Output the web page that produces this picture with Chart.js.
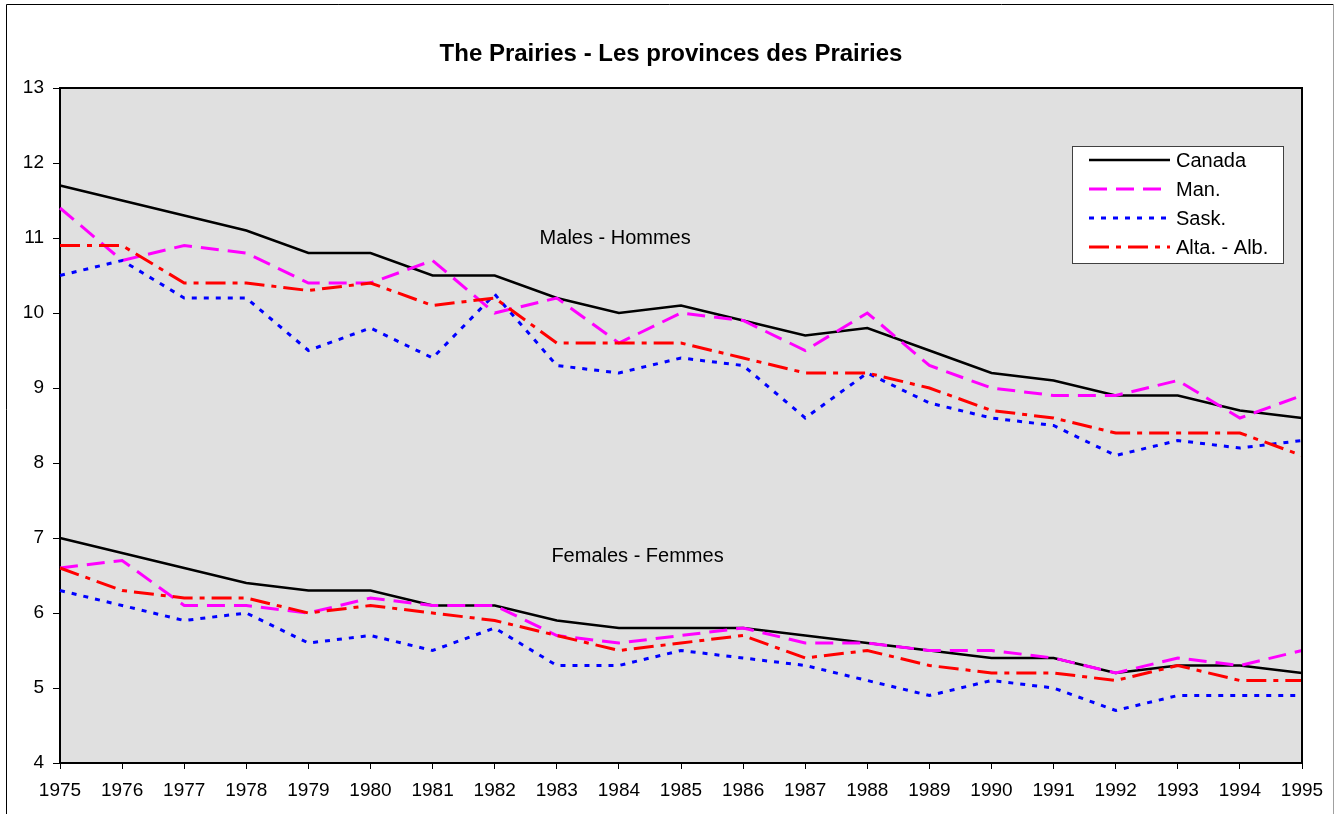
<!DOCTYPE html>
<html>
<head>
<meta charset="utf-8">
<title>The Prairies - Les provinces des Prairies</title>
<script src="https://cdn.jsdelivr.net/npm/chart.js@4.4.1/dist/chart.umd.min.js"></script>
<style>
  html, body { margin: 0; padding: 0; background: #ffffff; }
  canvas { display: block; }
</style>
</head>
<body>
<canvas id="myChart" width="1335" height="814"></canvas>
<script>
// Data
const years = ['1975', '1976', '1977', '1978', '1979', '1980', '1981', '1982', '1983', '1984', '1985',
  '1986', '1987', '1988', '1989', '1990', '1991', '1992', '1993', '1994', '1995'];

// Males - Hommes
const canadaMales = [11.7, 11.5, 11.3, 11.1, 10.8, 10.8, 10.5, 10.5, 10.2, 10.0, 10.1, 9.9, 9.7, 9.8, 9.5, 9.2, 9.1, 8.9, 8.9, 8.7, 8.6];
const manMales    = [11.4, 10.7, 10.9, 10.8, 10.4, 10.4, 10.7, 10.0, 10.2, 9.6, 10.0, 9.9, 9.5, 10.0, 9.3, 9.0, 8.9, 8.9, 9.1, 8.6, 8.9];
const saskMales   = [10.5, 10.7, 10.2, 10.2, 9.5, 9.8, 9.4, 10.25, 9.3, 9.2, 9.4, 9.3, 8.6, 9.2, 8.8, 8.6, 8.5, 8.1, 8.3, 8.2, 8.3];
const altaMales   = [10.9, 10.9, 10.4, 10.4, 10.3, 10.4, 10.1, 10.2, 9.6, 9.6, 9.6, 9.4, 9.2, 9.2, 9.0, 8.7, 8.6, 8.4, 8.4, 8.4, 8.1];

// Females - Femmes
const canadaFemales = [7.0, 6.8, 6.6, 6.4, 6.3, 6.3, 6.1, 6.1, 5.9, 5.8, 5.8, 5.8, 5.7, 5.6, 5.5, 5.4, 5.4, 5.2, 5.3, 5.3, 5.2];
const manFemales    = [6.6, 6.7, 6.1, 6.1, 6.0, 6.2, 6.1, 6.1, 5.7, 5.6, 5.7, 5.8, 5.6, 5.6, 5.5, 5.5, 5.4, 5.2, 5.4, 5.3, 5.5];
const saskFemales   = [6.3, 6.1, 5.9, 6.0, 5.6, 5.7, 5.5, 5.8, 5.3, 5.3, 5.5, 5.4, 5.3, 5.1, 4.9, 5.1, 5.0, 4.7, 4.9, 4.9, 4.9];
const altaFemales   = [6.6, 6.3, 6.2, 6.2, 6.0, 6.1, 6.0, 5.9, 5.7, 5.5, 5.6, 5.7, 5.4, 5.5, 5.3, 5.2, 5.2, 5.1, 5.3, 5.1, 5.1];

const seriesNames = ['Canada', 'Man.', 'Sask.', 'Alta. - Alb.'];
const yTicks = [4, 5, 6, 7, 8, 9, 10, 11, 12, 13];

// Text placed inside the plot: [text, year index, value]
const notes = [
  ['Males - Hommes', 8.94, 10.99],
  ['Females - Femmes', 9.3, 6.75]
];

const FONT = '"Liberation Sans", Arial, sans-serif';

// line styles per region
const styles = [
  { color: '#000000', width: 2.5, dash: [] },
  { color: '#ff00ff', width: 3, dash: [18, 9] },
  { color: '#0000ff', width: 3, dash: [5, 7] },
  { color: '#ff0000', width: 3, dash: [20, 7, 5, 7] }
];

function makeSet(name, data, i, sex) {
  return {
    label: name + ' ' + sex,
    data: data,
    borderColor: styles[i].color,
    borderWidth: styles[i].width,
    borderDash: styles[i].dash,
    pointRadius: 0,
    fill: false,
    tension: 0,
    order: 4 - i  // later series drawn on top, like the original
  };
}

const males = [canadaMales, manMales, saskMales, altaMales];
const females = [canadaFemales, manFemales, saskFemales, altaFemales];
let datasets = [];
males.forEach((d, i) => datasets.push(makeSet(seriesNames[i], d, i, 'M')));
females.forEach((d, i) => datasets.push(makeSet(seriesNames[i], d, i, 'F')));

// frame, plot background, title, notes and legend
const decor = {
  id: 'decor',
  beforeDraw(chart) {
    const c = chart.ctx;
    const a = chart.chartArea;
    c.save();
    c.fillStyle = '#ffffff';
    c.fillRect(0, 0, chart.width, chart.height);
    // outer frame
    c.strokeStyle = '#000000';
    c.lineWidth = 1;
    c.beginPath();
    c.moveTo(6.5, chart.height);
    c.lineTo(6.5, 4.5);
    c.lineTo(1333, 4.5);
    c.stroke();
    c.strokeStyle = '#a0a0a0';
    c.beginPath();
    c.moveTo(1333.5, 4);
    c.lineTo(1333.5, chart.height);
    c.stroke();
    // plot area
    c.fillStyle = '#e0e0e0';
    c.fillRect(a.left, a.top, a.right - a.left, a.bottom - a.top);
    // title
    c.fillStyle = '#000000';
    c.font = 'bold 24px ' + FONT;
    c.textAlign = 'center';
    c.textBaseline = 'middle';
    c.fillText('The Prairies - Les provinces des Prairies', 671, 54);
    c.restore();
  },
  afterDraw(chart) {
    const c = chart.ctx;
    const a = chart.chartArea;
    const x = chart.scales.x;
    const y = chart.scales.y;
    c.save();
    // top and right border of the plot
    c.strokeStyle = '#000000';
    c.lineWidth = 2;
    c.beginPath();
    c.moveTo(a.left, a.top);
    c.lineTo(a.right, a.top);
    c.lineTo(a.right, a.bottom);
    c.stroke();
    // notes
    c.fillStyle = '#000000';
    c.font = '20px ' + FONT;
    c.textAlign = 'center';
    c.textBaseline = 'middle';
    notes.forEach(n => c.fillText(n[0], x.getPixelForValue(n[1]), y.getPixelForValue(n[2])));
    // legend
    const lx = 1072, ly = 146, lw = 211, lh = 117;
    c.fillStyle = '#ffffff';
    c.fillRect(lx, ly, lw, lh);
    c.strokeStyle = '#404040';
    c.lineWidth = 1;
    c.strokeRect(lx + 0.5, ly + 0.5, lw, lh);
    const rows = [160, 189, 218, 247];
    c.textAlign = 'left';
    for (let i = 0; i < 4; i++) {
      const ds = chart.data.datasets[i];
      c.strokeStyle = ds.borderColor;
      c.lineWidth = ds.borderWidth;
      c.setLineDash(ds.borderDash);
      c.beginPath();
      c.moveTo(1089, rows[i]);
      c.lineTo(1170, rows[i]);
      c.stroke();
      c.setLineDash([]);
      c.fillStyle = '#000000';
      c.fillText(seriesNames[i], 1176, rows[i] + 1);
    }
    c.restore();
  }
};

const ctx = document.getElementById('myChart').getContext('2d');
const myChart = new Chart(ctx, {
  type: 'line',
  data: { labels: years, datasets: datasets },
  options: {
    responsive: false,
    animation: false,
    devicePixelRatio: 1,
    layout: { padding: { left: 0, top: 88, right: 33, bottom: 0 } },
    plugins: {
      legend: { display: false },
      title: { display: false },
      tooltip: { enabled: false }
    },
    scales: {
      x: {
        offset: false,
        afterFit: s => { s.height = 51; },
        border: { display: true, color: '#000000', width: 2 },
        grid: { drawOnChartArea: false, drawTicks: true, tickLength: 6, color: '#000000' },
        ticks: {
          color: '#000000',
          font: { family: FONT, size: 19 },
          maxRotation: 0,
          autoSkip: false,
          padding: 10
        }
      },
      y: {
        min: yTicks[0],
        max: yTicks[yTicks.length - 1],
        afterFit: s => { s.width = 60; },
        afterBuildTicks: s => { s.ticks = yTicks.map(v => ({ value: v })); },
        border: { display: true, color: '#000000', width: 2 },
        grid: { drawOnChartArea: false, drawTicks: true, tickLength: 7, color: '#000000' },
        ticks: {
          color: '#000000',
          font: { family: FONT, size: 19 },
          padding: 9
        }
      }
    }
  },
  plugins: [decor]
});
</script>
</body>
</html>
